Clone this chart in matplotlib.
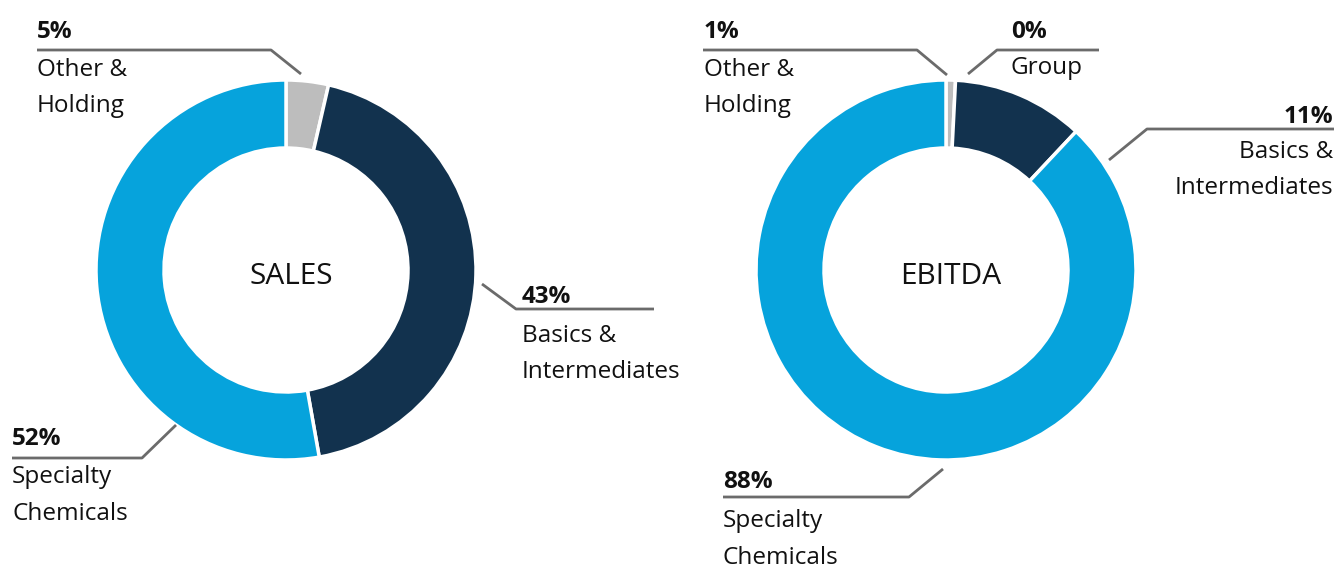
import matplotlib.pyplot as plt

plt.rcParams['font.family'] = ['Open Sans', 'DejaVu Sans']

# data
sales_labels = ['Other &\nHolding', 'Basics &\nIntermediates', 'Specialty\nChemicals']
sales_values = [3.6, 43.6, 52.8]
sales_pct = ['5%', '43%', '52%']

ebitda_labels = ['Other &\nHolding', 'Group', 'Basics &\nIntermediates', 'Specialty\nChemicals']
ebitda_values = [0.8, 0.0, 11.2, 88.0]
ebitda_pct = ['1%', '0%', '11%', '88%']

colors_sales = ['#bdbdbd', '#12324e', '#06a3dc']
colors_ebitda = ['#bdbdbd', '#bdbdbd', '#12324e', '#06a3dc']

W, H = 1339, 566
fig = plt.figure(figsize=(W / 100, H / 100), dpi=100)
ax = fig.add_axes([0, 0, 1, 1])

line_col = '#6b6b6b'
fs = 17.5


def donut(vals, cols, center, title, tx):
    ax.pie(vals, colors=cols, startangle=270, counterclock=True, center=center,
           radius=190, wedgeprops=dict(width=68, edgecolor='white', linewidth=2.5))
    ax.text(tx, center[1] + 7, title, ha='center', va='center', fontsize=21.5, color='#111111')


def label(pct, name, x, ha, base, gap_name, line_pts):
    xs, ys = zip(*line_pts)
    ax.plot(xs, ys, color=line_col, lw=2, solid_capstyle='butt')
    ax.text(x, base, pct, ha=ha, va='baseline', fontsize=fs, fontweight='bold', color='#111111')
    for i, part in enumerate(name.split('\n')):
        ax.text(x, gap_name + i * 36.5, part, ha=ha, va='baseline', fontsize=fs, color='#111111')


donut(sales_values, colors_sales, (286, 270), 'SALES', 291)
donut([v for v in ebitda_values if v > 0], [c for c, v in zip(colors_ebitda, ebitda_values) if v > 0],
      (946, 270), 'EBITDA', 951)

# SALES labels
label(sales_pct[0], sales_labels[0], 37, 'left', 38, 76, [(37, 50), (271, 50), (301, 74)])
label(sales_pct[1], sales_labels[1], 522, 'left', 303, 342, [(482, 284), (516, 309), (654, 309)])
label(sales_pct[2], sales_labels[2], 12, 'left', 445, 483, [(12, 458), (142, 458), (176, 425)])

# EBITDA labels
label(ebitda_pct[0], ebitda_labels[0], 704, 'left', 38, 76, [(703, 50), (917, 50), (947, 75)])
label(ebitda_pct[1], ebitda_labels[1], 1011, 'left', 38, 74, [(968, 74), (997, 50), (1099, 50)])
label(ebitda_pct[2], ebitda_labels[2], 1333, 'right', 123, 158, [(1109, 160), (1147, 129), (1334, 129)])
label(ebitda_pct[3], ebitda_labels[3], 723, 'left', 488, 527, [(723, 497), (909, 497), (943, 469)])

ax.set_xlim(0, W)
ax.set_ylim(H, 0)
ax.set_aspect('equal')
ax.axis('off')

fig.savefig('out.png', dpi=100)
